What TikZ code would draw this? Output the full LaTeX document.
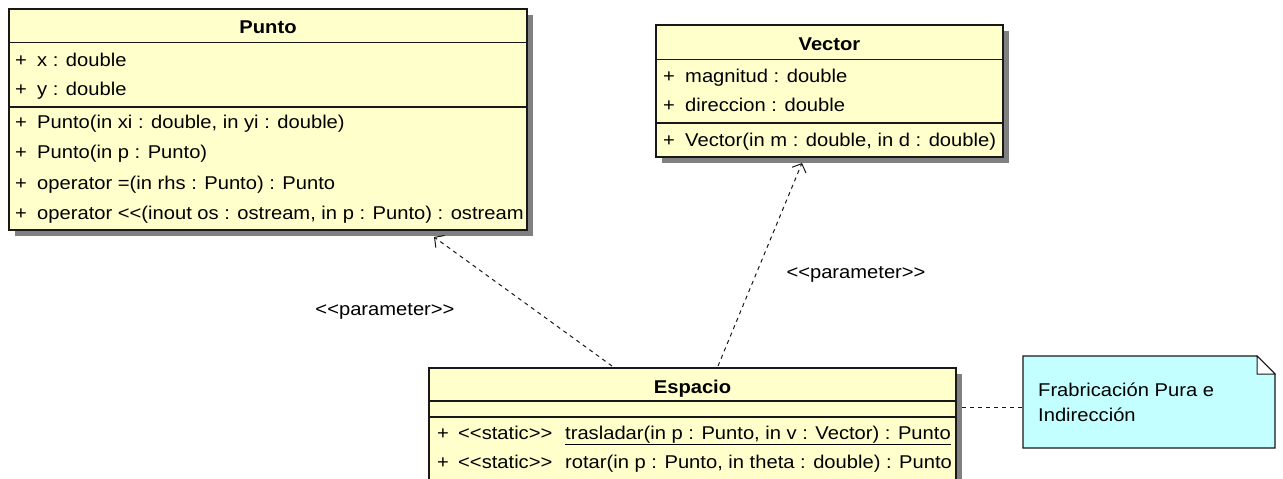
\documentclass[tikz,border=0pt]{standalone}
\usepackage{fontspec}
\setmainfont{Liberation Sans}[FakeStretch=1.09]
\usetikzlibrary{arrows.meta,calc}
\definecolor{classfill}{RGB}{255,255,204}
\definecolor{notefill}{RGB}{196,255,255}
\definecolor{shadowgray}{RGB}{128,128,128}
\definecolor{edgecol}{RGB}{24,24,24}
\begin{document}
\begin{tikzpicture}[x=1pt,y=-1pt,
  classbox/.style={draw=edgecol, line width=1.3pt, fill=classfill, inner sep=0pt, outer sep=0pt, anchor=north west},
  shadowbox/.style={draw=none, fill=shadowgray, inner sep=0pt, outer sep=0pt, anchor=north west},
  sepline/.style={draw=edgecol, line width=1.3pt},
  txt/.style={inner sep=0pt, anchor=base west, font=\fontsize{18.5}{22}\selectfont},
  ttl/.style={inner sep=0pt, anchor=base, font=\fontsize{18.5}{22}\selectfont\bfseries},
  deplink/.style={draw=edgecol, line width=1pt, dash pattern=on 4pt off 4pt, -{Straight Barb[length=7pt,width=15pt]}},
  notelink/.style={draw=edgecol, line width=1pt, dash pattern=on 4pt off 4pt},
  lbl/.style={inner sep=0pt, anchor=base, font=\fontsize{18.5}{22}\selectfont}]
\useasboundingbox (0,0) rectangle (1283,479);
\clip (0,0) rectangle (1283,479);

% ---------- Punto ----------
\node[shadowbox, minimum width=518pt, minimum height=221pt] (puntoS) at (15,15) {};
\node[classbox, minimum width=518pt, minimum height=221pt] (punto) at (9,9) {};
\draw[sepline] (9,42.5) -- (527,42.5);
\draw[sepline] (9,107) -- (527,107);
\node[ttl] (puntoT) at (268,33) {Punto};
\node[txt] (pp1) at (15,66) {+};
\node[txt] (pa1) at (37,66) {x : double};
\node[txt] (pp2) at (15,95) {+};
\node[txt] (pa2) at (37,95) {y : double};
\node[txt] (pp3) at (15,128.5) {+};
\node[txt] (pm1) at (37,128.5) {Punto(in xi : double, in yi : double)};
\node[txt] (pp4) at (15,158.5) {+};
\node[txt] (pm2) at (37,158.5) {Punto(in p : Punto)};
\node[txt] (pp5) at (15,189) {+};
\node[txt] (pm3) at (37,189) {operator =(in rhs : Punto) : Punto};
\node[txt] (pp6) at (15,219) {+};
\node[txt] (pm4) at (37,219) {operator <{}<(inout os : ostream, in p : Punto) : ostream};

% ---------- Vector ----------
\node[shadowbox, minimum width=347pt, minimum height=132pt] (vectorS) at (662,31) {};
\node[classbox, minimum width=347pt, minimum height=132pt] (vector) at (656,25) {};
\draw[sepline] (656,59.5) -- (1003,59.5);
\draw[sepline] (656,123) -- (1003,123);
\node[ttl] (vectorT) at (829.5,50) {Vector};
\node[txt] (vp1) at (663,82) {+};
\node[txt] (va1) at (685,82) {magnitud : double};
\node[txt] (vp2) at (663,111) {+};
\node[txt] (va2) at (685,111) {direccion : double};
\node[txt] (vp3) at (663,146) {+};
\node[txt] (vm1) at (685,146) {Vector(in m : double, in d : double)};

% ---------- Espacio ----------
\node[shadowbox, minimum width=527pt, minimum height=130pt] (espacioS) at (435,374) {};
\node[classbox, minimum width=527pt, minimum height=130pt] (espacio) at (429,368) {};
\draw[sepline] (429,401) -- (956,401);
\draw[sepline] (429,417) -- (956,417);
\node[ttl] (espacioT) at (692.5,393) {Espacio};
\node[txt] (ep1) at (437,439) {+};
\node[txt] (es1) at (458,439) {<{}<static>{}>};
\node[txt] (em1) at (565,439) {\underline{trasladar(in p : Punto, in v : Vector) : Punto}};
\node[txt] (ep2) at (437,468) {+};
\node[txt] (es2) at (458,468) {<{}<static>{}>};
\node[txt] (em2) at (565,468) {rotar(in p : Punto, in theta : double) : Punto};

% ---------- Note ----------
\node[inner sep=0pt, outer sep=0pt, minimum width=252pt, minimum height=92pt, anchor=north west] (note) at (1023,356) {};
\draw[draw=edgecol, line width=1.3pt, fill=notefill]
  (note.north west) -- ($(note.north east)+(-18,0)$) -- ($(note.north east)+(0,18)$)
  -- (note.south east) -- (note.south west) -- cycle;
\draw[draw=edgecol, line width=1pt, fill=white]
  ($(note.north east)+(-18,0)$) -- ($(note.north east)+(-18,18)$) -- ($(note.north east)+(0,18)$) -- cycle;
\node[txt] (noteL1) at (1038,396) {Frabricación Pura e};
\node[txt] (noteL2) at (1038,421) {Indirección};

% ---------- connectors ----------
\coordinate (d1s) at ($(espacio.north west)+(183,-2)$);
\coordinate (d1e) at ($(punto.south west)+(425,7)$);
\coordinate (d2s) at ($(espacio.north west)+(289,-2)$);
\coordinate (d2e) at ($(vector.south west)+(146,6)$);
\draw[deplink] (d1s) -- (d1e);
\draw[deplink] (d2s) -- (d2e);
\coordinate (nls) at ($(espacio.north east)+(6,39)$);
\draw[notelink] (nls) -- (note.west |- nls);

\node[lbl] (lbl1) at (385,315) {<{}<parameter>{}>};
\node[lbl] (lbl2) at (856,278) {<{}<parameter>{}>};
\end{tikzpicture}
\end{document}
